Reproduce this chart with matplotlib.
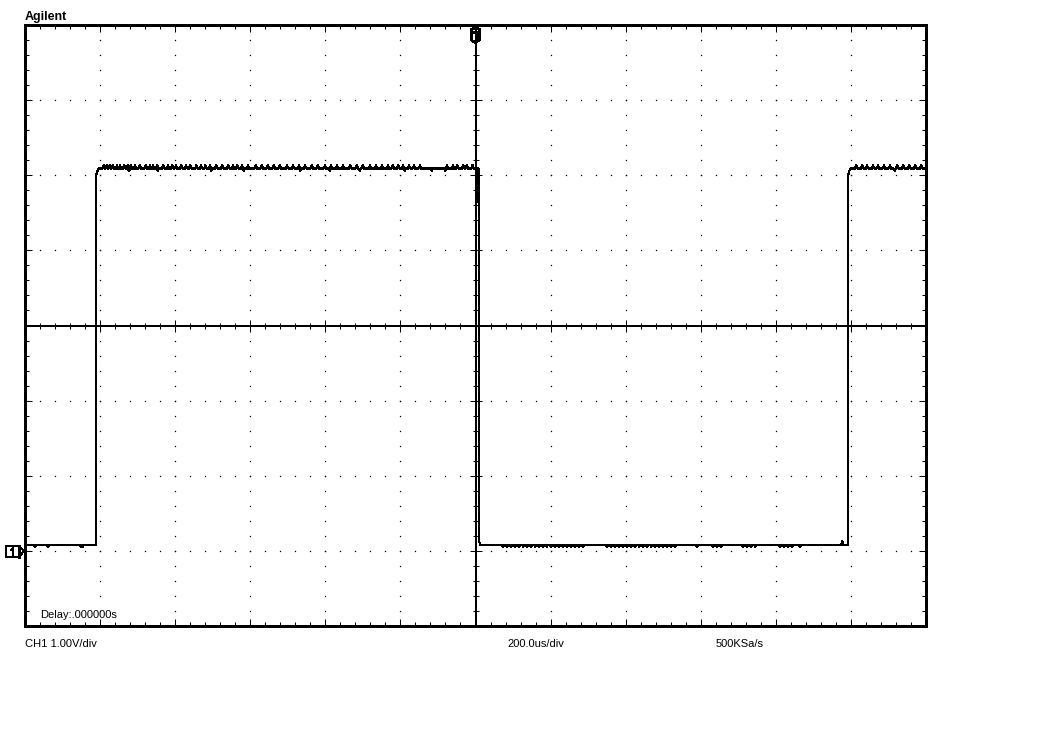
import numpy as np
import matplotlib
matplotlib.use('Agg')
import matplotlib.pyplot as plt
from matplotlib import transforms as mtransforms
from matplotlib.patches import Polygon

time_range_us = [-1200, 1200]
volt_range_v = [-1.0, 7.0]
time_per_div_us = 200
time_minor_us = 40
volt_per_div_v = 1.0
volt_minor_v = 0.2
center_v = 3.0
ground_v = 0.0
trigger_time_us = 0.0

high_level_v = 5.09
low_level_v = 0.08
edge_times_us = [-1011, 8, 992]
edge_kinds = ['rise', 'fall', 'rise']

high_up_glitch_us = [-990, -982, -974, -966, -955, -947, -936, -926, -918, -907,
                     -894, -878, -867, -859, -848, -832, -819, -808, -798, -784,
                     -771, -760, -744, -731, -720, -707, -691, -675, -659, -646,
                     -635, -622, -606, -585, -569, -553, -537, -521, -502, -486,
                     -470, -454, -436, -420, -401, -385, -369, -353, -334, -316,
                     -300, -281, -265, -249, -233, -220, -206, -193, -177, -164,
                     -148, -76, -60, -49, -33, -23, -8,
                     1014, 1030, 1043, 1059, 1072, 1088, 1104, 1123, 1139, 1155,
                     1171, 1187]
high_down_glitch_us = [-923, -846, -704, -617, -467, -388, -308, -188, -116, -81, 1117]
low_down_glitch_us = [-1173, -1139, -1051, -1046,
                      73, 84, 95, 105, 116, 127, 137, 148, 159, 169, 180, 190, 201,
                      212, 222, 233, 244, 254, 265, 276, 286, 350, 361, 372, 382,
                      393, 404, 414, 425, 436, 446, 457, 468, 478, 489, 499, 510,
                      521, 531, 590, 633, 643, 654, 713, 723, 734, 745, 811, 822,
                      832, 843, 864]
low_up_glitch_us = [977]
glitch_up_v = 0.05
glitch_down_v = 0.035
glitch_halfwidth_us = 2.7

header_text = 'Agilent'
delay_text = 'Delay:.000000s'
ch_text = 'CH1 1.00V/div'
timebase_text = '200.0us/div'
rate_text = '500KSa/s'

# ---------------- figure ----------------
W, H = 1052, 751
fig = plt.figure(figsize=(W / 100, H / 100), dpi=100)
fig.patch.set_facecolor('white')
L, R, T, B = 25, 926, 25, 626
pos = [L / W, 1 - B / H, (R - L) / W, (B - T) / H]
ax = fig.add_axes(pos)
ax.set_xlim(*time_range_us)
ax.set_ylim(*volt_range_v)
ax.set_facecolor('white')

FONT = 'Liberation Sans'

# border ticks
ax.set_xticks(np.arange(time_range_us[0], time_range_us[1] + 1, time_per_div_us))
ax.set_xticks(np.arange(time_range_us[0], time_range_us[1] + 1, time_minor_us), minor=True)
ax.set_yticks(np.arange(volt_range_v[0], volt_range_v[1] + 0.01, volt_per_div_v))
ax.set_yticks(np.arange(volt_range_v[0], volt_range_v[1] + 0.01, volt_minor_v), minor=True)
ax.tick_params(which='both', direction='in', top=True, right=True,
               labelbottom=False, labelleft=False, color='black', width=0.75)
ax.tick_params(which='major', length=5)
ax.tick_params(which='minor', length=2.6)
for s in ax.spines.values():
    s.set_linewidth(1.9)
    s.set_color('black')
    s.set_antialiased(False)

# grid dots along major divisions
mx = np.arange(time_range_us[0], time_range_us[1] + 1, time_per_div_us)
my = np.arange(volt_range_v[0], volt_range_v[1] + 0.01, volt_per_div_v)
minx = np.arange(time_range_us[0], time_range_us[1] + 1, time_minor_us)
miny = np.arange(volt_range_v[0], volt_range_v[1] + 0.01, volt_minor_v)
dx, dy = [], []
for x in mx:
    if x in (time_range_us[0], time_range_us[1], trigger_time_us):
        continue
    dx.extend([x] * len(miny)); dy.extend(miny)
for y in my:
    if np.isclose(y, volt_range_v[0]) or np.isclose(y, volt_range_v[1]) or np.isclose(y, center_v):
        continue
    dx.extend(minx); dy.extend([y] * len(minx))
ax.plot(dx, dy, ls='none', marker='s', ms=0.9, mew=0, color='black',
        antialiased=False, zorder=1)

# center cross with ticks
ax2 = fig.add_axes(pos, sharex=ax, sharey=ax)
ax2.patch.set_visible(False)
ax2.spines['top'].set_visible(False)
ax2.spines['right'].set_visible(False)
ax2.spines['left'].set_position(('data', trigger_time_us))
ax2.spines['bottom'].set_position(('data', center_v))
for k in ('left', 'bottom'):
    ax2.spines[k].set_linewidth(1.1)
    ax2.spines[k].set_antialiased(False)
ax2.tick_params(which='both', direction='inout', labelbottom=False, labelleft=False,
                width=0.75, color='black')
ax2.tick_params(which='major', length=8.6)
ax2.tick_params(which='minor', length=5.0)

# ---------------- trace ----------------
def build_trace():
    hw = glitch_halfwidth_us
    bounds = [time_range_us[0]] + edge_times_us + [time_range_us[1]]
    base = low_level_v if edge_kinds[0] == 'rise' else high_level_v
    ts, vs = [bounds[0]], [base]
    for i in range(len(bounds) - 1):
        start, end = bounds[i], bounds[i + 1]
        if base == high_level_v:
            gl = [(g, glitch_up_v) for g in high_up_glitch_us] + \
                 [(g, -glitch_down_v) for g in high_down_glitch_us]
        else:
            gl = [(g, glitch_up_v) for g in low_up_glitch_us] + \
                 [(g, -glitch_down_v) for g in low_down_glitch_us]
        gl = sorted(g for g in gl if start < g[0] < end)
        for g, a in gl:
            ts += [g - hw, g, g + hw]
            vs += [base, base + a, base]
        ts.append(end); vs.append(base)
        if i < len(edge_kinds):
            te = end
            if edge_kinds[i] == 'rise':
                new = high_level_v
                ts += [te + 0.6, te + 3, te + 8]
                vs += [new - 0.09, new - 0.04, new]
            else:
                new = low_level_v
                ts += [te + 1.5, te + 5]
                vs += [new + 0.05, new]
            base = new
    return ts, vs

tt, vv = build_trace()
ax.plot(tt, vv, color='black', lw=0.8, antialiased=False, zorder=5, solid_joinstyle='miter')

# ---------------- markers ----------------
def pix_trans(x, y):
    return mtransforms.Affine2D().scale(1, -1) + mtransforms.ScaledTranslation(x, y, ax.transData)

tr = pix_trans(trigger_time_us, volt_range_v[1])
ax.add_patch(Polygon([(-4, 0.5), (4, 0.5), (0, 3.5)], closed=True, fill=False,
                     ec='black', lw=0.75, transform=tr, clip_on=False, zorder=6,
                     antialiased=False))
ax.add_patch(Polygon([(-4, 4), (4, 4), (4, 15), (0, 18.5), (-4, 15)], closed=True,
                     fc='white', ec='black', lw=0.75, transform=tr, clip_on=False,
                     zorder=6, antialiased=False))
ax.plot([-2, 2], [7, 7], color='black', lw=0.75, transform=tr, clip_on=False,
        zorder=7, antialiased=False)
ax.plot([0, 0], [7, 14], color='black', lw=0.75, transform=tr, clip_on=False,
        zorder=7, antialiased=False)

gr = pix_trans(time_range_us[0], ground_v)
ax.add_patch(Polygon([(-19, -5), (-6, -5), (-1, 0), (-6, 6), (-19, 6)], closed=True,
                     fc='white', ec='black', lw=0.75, transform=gr, clip_on=False,
                     zorder=6, antialiased=False))
ax.plot([-6, -6], [-5, 6], color='black', lw=0.75, transform=gr, clip_on=False,
        zorder=7, antialiased=False)
ax.plot([-14, -12, -12], [-1, -3, 4], color='black', lw=0.75, transform=gr,
        clip_on=False, zorder=7, antialiased=False)

# ---------------- texts ----------------
def ftext(x, y, s, **kw):
    fig.text(x / W, 1 - y / H, s, family=FONT, va='baseline', ha='left', **kw)

ftext(25, 20, header_text, fontsize=9, fontweight='bold')
ftext(40, 618, delay_text, fontsize=8)
ftext(25, 647, ch_text, fontsize=8)
ftext(507, 647, timebase_text, fontsize=8)
ftext(716, 647, rate_text, fontsize=8)

fig.savefig('out.png', dpi=100, facecolor='white')
